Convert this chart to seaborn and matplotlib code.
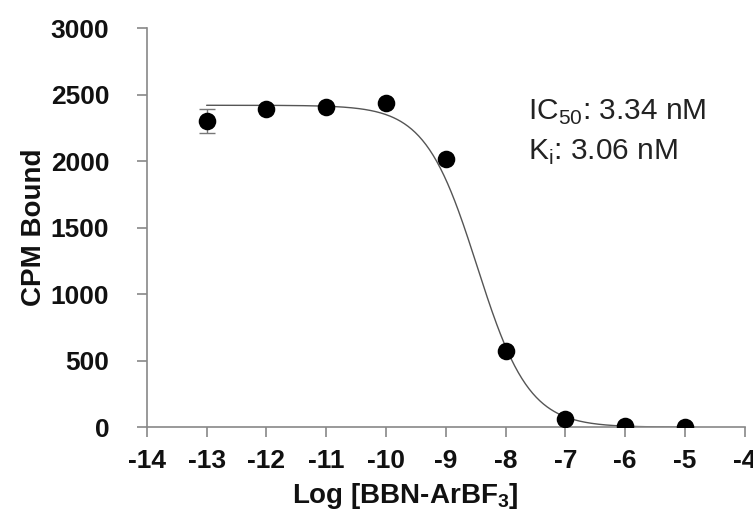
import numpy as np
import pandas as pd
import matplotlib
matplotlib.use("Agg")
import matplotlib.pyplot as plt
import seaborn as sns

log_conc = [-13, -12, -11, -10, -9, -8, -7, -6, -5]
cpm = [2300, 2390, 2405, 2440, 2015, 570, 60, 8, 2]
cpm_err = [90, 0, 0, 0, 0, 0, 0, 0, 0]

# fit parameters
top = 2420
bottom = 0
log_ic50 = np.log10(3.34e-9)
hill = 1.0
fit_x = np.linspace(-13, -5, 400)
fit_y = bottom + (top - bottom) / (1 + 10 ** ((fit_x - log_ic50) * hill))

sns.set_style("white")
plt.rcParams['font.family'] = ['Liberation Sans', 'DejaVu Sans']
plt.rcParams['axes.unicode_minus'] = False
plt.rcParams['mathtext.fontset'] = 'custom'
plt.rcParams['mathtext.rm'] = 'Liberation Sans'
plt.rcParams['mathtext.bf'] = 'Liberation Sans:bold'

fig = plt.figure(figsize=(7.53, 5.11), dpi=100)
ax = fig.add_axes([0.195, 0.164, 0.794, 0.781])

sns.lineplot(x=fit_x, y=fit_y, ax=ax, color="#555555", linewidth=1.0)
ax.errorbar(log_conc[0], cpm[0], yerr=cpm_err[0], fmt='none', ecolor="#777777",
            elinewidth=1.0, capsize=6, capthick=1.0, zorder=2)
sns.scatterplot(x=log_conc, y=cpm, ax=ax, color="black", s=160, edgecolor="black",
                linewidth=0, zorder=3)

ax.set_xlim(-14, -4)
ax.set_ylim(0, 3000)
ax.set_xticks(range(-14, -3))
ax.set_yticks(range(0, 3001, 500))
for s in ["top", "right"]:
    ax.spines[s].set_visible(False)
for s in ["left", "bottom"]:
    ax.spines[s].set_color("#888888")
    ax.spines[s].set_linewidth(1.2)
ax.tick_params(axis="both", direction="out", length=7, width=1.2, color="#888888",
               labelsize=19, labelcolor="#111111")
ax.tick_params(axis="y", left=True, pad=20)
ax.tick_params(axis="x", bottom=True, pad=9)
for lab in ax.get_xticklabels() + ax.get_yticklabels():
    lab.set_fontweight("bold")
ax.set_xlabel("Log [BBN-ArBF$_\\mathbf{3}$]", fontsize=20, fontweight="bold",
              color="#111111")
ax.xaxis.set_label_coords(0.433, -0.135)
ax.set_ylabel("CPM Bound", fontsize=20, fontweight="bold", labelpad=3, color="#111111")
ax.text(-7.62, 2310, "IC$_{50}$: 3.34 nM", fontsize=21.5, color="#222222")
ax.text(-7.62, 2010, "K$_{\\mathrm{i}}$: 3.06 nM", fontsize=21.5, color="#222222")
ax.patch.set_alpha(0)
fig.savefig("out.png", dpi=100)
